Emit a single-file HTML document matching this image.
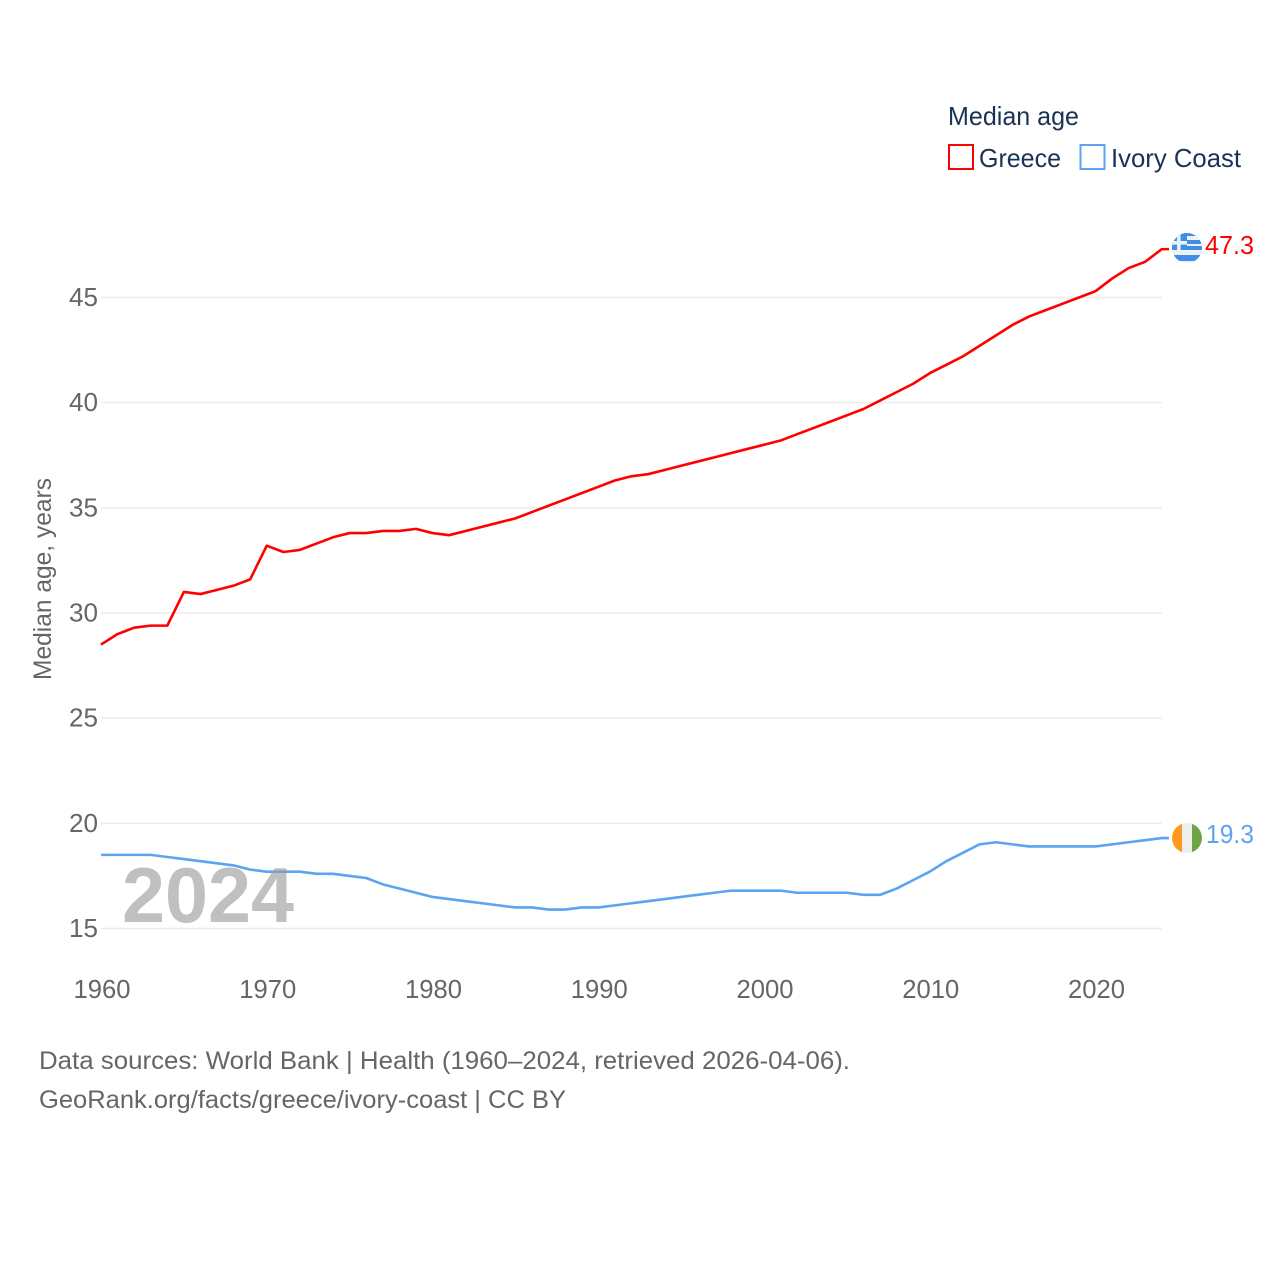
<!DOCTYPE html>
<html lang="en">
<head>
<meta charset="utf-8">
<title>Median age: Greece and Ivory Coast</title>
<style>
html,body{margin:0;padding:0;background:#fff}
svg{display:block}
text{font-family:"Liberation Sans",sans-serif}
</style>
</head>
<body>
<svg id="chart" xmlns="http://www.w3.org/2000/svg" width="1280" height="1280" viewBox="0 0 1280 1280">
  <rect width="1280" height="1280" fill="#fff"/>
  <g id="grid"></g>
  <g id="yticks"></g>
  <g id="xticks"></g>
  <text transform="translate(51,680) rotate(-90)" font-size="25" fill="#666" textLength="202" lengthAdjust="spacingAndGlyphs">Median age, years</text>
  <g id="series"></g>
  <text x="122" y="922" font-size="78" font-weight="700" fill="#999" fill-opacity="0.62" textLength="172" lengthAdjust="spacingAndGlyphs">2024</text>

  <defs>
    <clipPath id="clip-gr"><circle cx="1187" cy="248" r="15"/></clipPath>
    <clipPath id="clip-ci"><circle cx="1187" cy="838" r="15"/></clipPath>
  </defs>
  <g clip-path="url(#clip-gr)">
    <rect x="1172" y="233" width="30" height="30" fill="#eef1f4"/>
    <rect x="1172" y="233" width="30" height="3" fill="#3f8fe6"/>
    <rect x="1172" y="240" width="30" height="4" fill="#3f8fe6"/>
    <rect x="1172" y="246" width="30" height="4" fill="#3f8fe6"/>
    <rect x="1172" y="255" width="30" height="6" fill="#3f8fe6"/>
    <rect x="1172" y="233" width="15" height="17" fill="#3f8fe6"/>
    <rect x="1177" y="233" width="3.6" height="17" fill="#eef1f4"/>
    <rect x="1172" y="241" width="15" height="3.6" fill="#eef1f4"/>
  </g>
  <g clip-path="url(#clip-ci)">
    <rect x="1172" y="823" width="10" height="30" fill="#ff9a1f"/>
    <rect x="1182" y="823" width="10" height="30" fill="#eeeeee"/>
    <rect x="1192" y="823" width="10" height="30" fill="#6fa544"/>
  </g>
  <text x="1205" y="254" font-size="26" fill="#ff0000" textLength="49" lengthAdjust="spacingAndGlyphs">47.3</text>
  <text x="1206" y="843" font-size="26" fill="#5ba4f0" textLength="48" lengthAdjust="spacingAndGlyphs">19.3</text>

  <g>
    <text x="948" y="125" font-size="26" fill="#1a3355" textLength="131" lengthAdjust="spacingAndGlyphs">Median age</text>
    <g>
      <rect x="949" y="145" width="24" height="24" fill="none" stroke="#ff0000" stroke-width="2"/>
      <text x="979" y="167" font-size="26" fill="#1a3355" textLength="82" lengthAdjust="spacingAndGlyphs">Greece</text>
    </g>
    <g>
      <rect x="1080.5" y="145" width="24" height="24" fill="none" stroke="#5ba4f0" stroke-width="2"/>
      <text x="1111" y="167" font-size="26" fill="#1a3355" textLength="130" lengthAdjust="spacingAndGlyphs">Ivory Coast</text>
    </g>
  </g>

  <text x="39" y="1069" font-size="25" fill="#666" textLength="811" lengthAdjust="spacingAndGlyphs">Data sources: World Bank | Health (1960–2024, retrieved 2026-04-06).</text>
  <text x="39" y="1108" font-size="25" fill="#666" textLength="527" lengthAdjust="spacingAndGlyphs">GeoRank.org/facts/greece/ivory-coast | CC BY</text>
</svg>
<script>
const years = [1960,1961,1962,1963,1964,1965,1966,1967,1968,1969,1970,1971,1972,1973,1974,1975,1976,1977,1978,1979,1980,1981,1982,1983,1984,1985,1986,1987,1988,1989,1990,1991,1992,1993,1994,1995,1996,1997,1998,1999,2000,2001,2002,2003,2004,2005,2006,2007,2008,2009,2010,2011,2012,2013,2014,2015,2016,2017,2018,2019,2020,2021,2022,2023,2024];
const greeceValues = [28.5,29.0,29.3,29.4,29.4,31.0,30.9,31.1,31.3,31.6,33.2,32.9,33.0,33.3,33.6,33.8,33.8,33.9,33.9,34.0,33.8,33.7,33.9,34.1,34.3,34.5,34.8,35.1,35.4,35.7,36.0,36.3,36.5,36.6,36.8,37.0,37.2,37.4,37.6,37.8,38.0,38.2,38.5,38.8,39.1,39.4,39.7,40.1,40.5,40.9,41.4,41.8,42.2,42.7,43.2,43.7,44.1,44.4,44.7,45.0,45.3,45.9,46.4,46.7,47.3];
const ivoryCoastValues = [18.5,18.5,18.5,18.5,18.4,18.3,18.2,18.1,18.0,17.8,17.7,17.7,17.7,17.6,17.6,17.5,17.4,17.1,16.9,16.7,16.5,16.4,16.3,16.2,16.1,16.0,16.0,15.9,15.9,16.0,16.0,16.1,16.2,16.3,16.4,16.5,16.6,16.7,16.8,16.8,16.8,16.8,16.7,16.7,16.7,16.7,16.6,16.6,16.9,17.3,17.7,18.2,18.6,19.0,19.1,19.0,18.9,18.9,18.9,18.9,18.9,19.0,19.1,19.2,19.3];
const yTickValues = [15,20,25,30,35,40,45];
const xTickValues = [1960,1970,1980,1990,2000,2010,2020];

const NS = 'http://www.w3.org/2000/svg';
const xScale = function (year) { return 101 + (year - 1960) * (1095.5 - 101) / 60; };
const yScale = function (value) { return 928.5 - (value - 15) * (928.5 - 297.5) / 30; };
const plotRight = xScale(2024);
const connectorEnd = 1169;

function make(tag, parent) {
  const el = document.createElementNS(NS, tag);
  parent.appendChild(el);
  return el;
}

const gridGroup = document.getElementById('grid');
const yGroup = document.getElementById('yticks');
const xGroup = document.getElementById('xticks');
const seriesGroup = document.getElementById('series');

yTickValues.forEach(function (v) {
  const line = make('line', gridGroup);
  
  
  line.setAttribute('x1', xScale(1960));
  line.setAttribute('x2', plotRight);
  line.setAttribute('y1', yScale(v));
  line.setAttribute('y2', yScale(v));
  line.setAttribute('stroke', '#ececec');
  line.setAttribute('stroke-width', '1.5');

  const label = make('text', yGroup);
  
  
  label.setAttribute('x', 69);
  label.setAttribute('y', yScale(v) + 8.5);
  label.setAttribute('font-size', '26');
  label.setAttribute('fill', '#666');
  label.setAttribute('textLength', '29');
  label.setAttribute('lengthAdjust', 'spacingAndGlyphs');
  label.textContent = v;
});

xTickValues.forEach(function (y) {
  const label = make('text', xGroup);
  
  
  label.setAttribute('x', xScale(y) + 0.5 - 28);
  label.setAttribute('y', 998);
  label.setAttribute('font-size', '26');
  label.setAttribute('fill', '#666');
  label.setAttribute('textLength', '57');
  label.setAttribute('lengthAdjust', 'spacingAndGlyphs');
  label.textContent = y;
});

function drawSeries(values, color, name) {
  const pts = values.map(function (v, i) {
    return xScale(years[i]).toFixed(2) + ',' + yScale(v).toFixed(2);
  });
  const last = values[values.length - 1];
  pts.push(connectorEnd + ',' + yScale(last).toFixed(2));
  const line = make('polyline', seriesGroup);
  
  
  line.setAttribute('points', pts.join(' '));
  line.setAttribute('fill', 'none');
  line.setAttribute('stroke', color);
  line.setAttribute('stroke-width', '2.6');
  line.setAttribute('stroke-linejoin', 'round');
}
drawSeries(greeceValues, '#ff0000', 'greece-line');
drawSeries(ivoryCoastValues, '#5ba4f0', 'ivory-coast-line');
</script>
</body>
</html>
